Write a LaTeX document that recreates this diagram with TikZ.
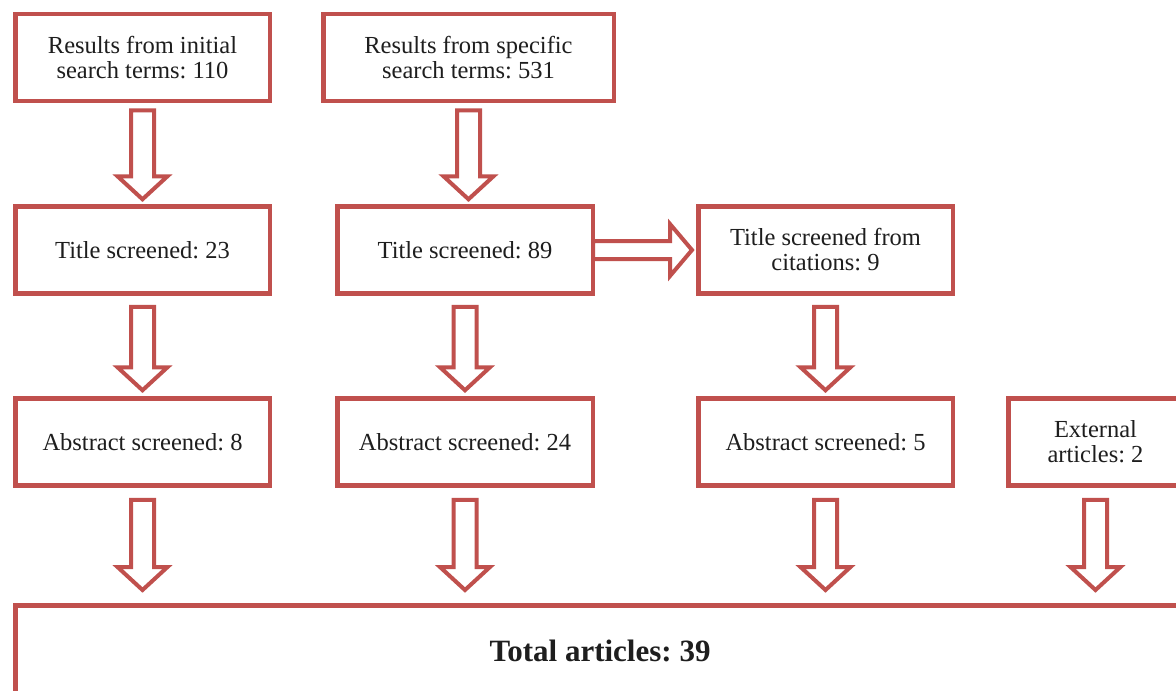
\documentclass[tikz,border=0pt]{standalone}
\usepackage{fontspec}
\setmainfont{Liberation Serif}
\usetikzlibrary{calc}
\frenchspacing
\definecolor{boxred}{RGB}{192,80,77}
\definecolor{txt}{RGB}{30,30,30}
\tikzset{
  box/.style={draw=boxred, line width=4.5pt, rectangle, minimum width=254.5pt,
    minimum height=87pt, align=center, inner sep=0pt, text=txt,
    font=\fontsize{24.5}{25}\selectfont},
  totalbox/.style={box, font=\fontsize{31}{32}\selectfont\bfseries},
  arr/.style={draw=boxred, line width=4pt, fill=white, line join=miter}
}
% vertical hollow arrow: #1 node giving x, #2 source node, #3 target node, #4 start gap, #5 end gap
\newcommand\bigdown[5]{%
  \draw[arr] let \p3=(#1), \p1=($(#2.south)+(0,#4)$), \p2=($(#3.north)+(0,-#5)$) in
    (\x3-11.5pt,\y1) -- (\x3+11.5pt,\y1) -- (\x3+11.5pt,\y2+23pt) -- (\x3+25pt,\y2+23pt)
    -- (\x3,\y2) -- (\x3-25pt,\y2+23pt) -- (\x3-11.5pt,\y2+23pt) -- cycle;}
% horizontal hollow arrow: #1 source node, #2 target node, #3 start gap, #4 end gap
\newcommand\bigright[4]{%
  \draw[arr] let \p1=($(#1.east)+(#3,0)$), \p2=($(#2.west)+(-#4,0)$) in
    (\x1,\y1+9pt) -- (\x2-22pt,\y1+9pt) -- (\x2-22pt,\y1+26pt) -- (\x2,\y1)
    -- (\x2-22pt,\y1-26pt) -- (\x2-22pt,\y1-9pt) -- (\x1,\y1-9pt) -- cycle;}
\begin{document}
\begin{tikzpicture}[x=1pt,y=-1pt]
\useasboundingbox (0,0) rectangle (1176,691);
\clip (0,0) rectangle (1176,691);
\fill[white] (0,0) rectangle (1176,691);
% row 1
\node[box] (b1) at (142.5,57.5) {Results from initial\\search terms: 110};
\node[box, minimum width=290.5pt] (b2) at (468.5,57.5) {Results from specific\\search terms: 531};
% row 2
\node[box] (b3) at (142.5,250) {Title screened: 23};
\node[box, minimum width=255.5pt] (b4) at (465,250) {Title screened: 89};
\node[box] (b5) at (825.5,250) {Title screened from\\citations: 9};
% row 3
\node[box] (b6) at (142.5,442) {Abstract screened: 8};
\node[box, minimum width=255.5pt] (b7) at (465,442) {Abstract screened: 24};
\node[box] (b8) at (825.5,442) {Abstract screened: 5};
\node[box, minimum width=174.5pt] (b9) at (1095.5,442) {External\\articles: 2};
% total
\node[totalbox, minimum width=1169.5pt, minimum height=91.5pt] (tot) at (600,651) {Total articles: 39};
% arrows
\bigdown{b1}{b1}{b3}{7}{5}
\bigdown{b2}{b2}{b4}{7}{5}
\bigdown{b3}{b3}{b6}{11}{6}
\bigdown{b4}{b4}{b7}{11}{6}
\bigdown{b5}{b5}{b8}{11}{6}
\bigdown{b6}{b6}{tot}{12}{13}
\bigdown{b7}{b7}{tot}{12}{13}
\bigdown{b8}{b8}{tot}{12}{13}
\bigdown{b9}{b9}{tot}{12}{13}
\bigright{b4}{b5}{-2}{4}
\end{tikzpicture}
\end{document}
